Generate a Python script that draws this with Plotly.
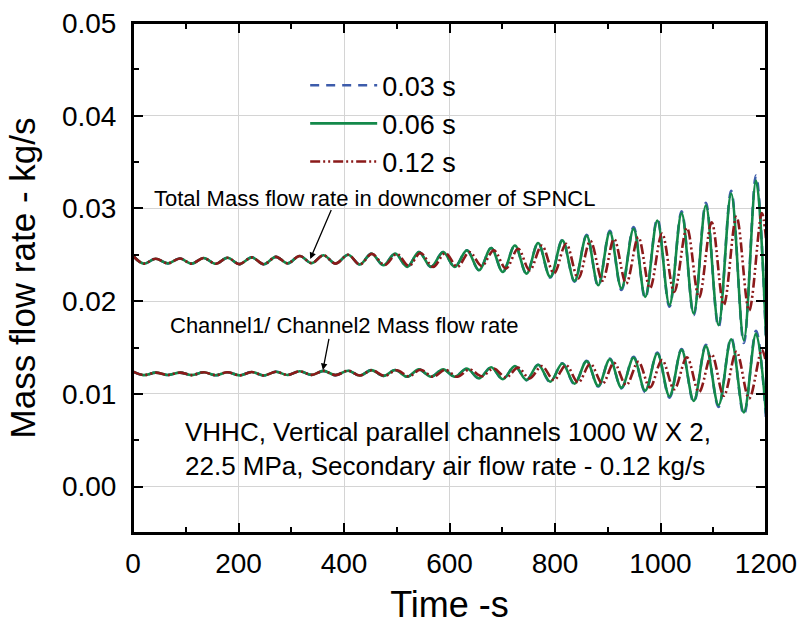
import plotly.graph_objects as go

# ---- data (extrema; curves drawn smoothly through them) ----
t_fast = [0, 20, 43, 66, 89, 111, 134, 157, 179, 202, 225, 248, 271, 293, 316, 339, 361, 384, 408, 430,
          452, 475, 497, 520, 542, 565, 588, 610, 633, 656, 679, 701, 724, 746, 768, 791, 814, 837, 860, 882,
          904, 926, 949, 971, 994, 1017, 1040, 1063, 1086, 1110, 1134, 1158, 1181, 1200]
t_slow = [0, 20, 43, 66, 89, 111, 134, 157, 179, 202, 225, 248, 271, 293, 316, 339, 361, 384, 408, 430,
          453, 477, 500, 523, 545, 569, 592, 615, 638, 661, 684, 707, 730, 752, 775, 798, 821, 844, 867, 890,
          912, 935, 958, 980, 1003, 1026, 1050, 1073, 1097, 1120, 1144, 1168, 1192, 1200]

total_006 = [0.0249, 0.02405, 0.02458, 0.02408, 0.0246, 0.02405, 0.02465, 0.02403, 0.02468, 0.024,
             0.02472, 0.02398, 0.02478, 0.02408, 0.02487, 0.0241, 0.02495, 0.02405, 0.025, 0.02395,
             0.02513, 0.02387, 0.02515, 0.0237, 0.0253, 0.0237, 0.0253, 0.02369, 0.02548, 0.02333,
             0.02573, 0.02315, 0.026, 0.02297, 0.02627, 0.02261, 0.02656, 0.02218, 0.02705, 0.02172,
             0.02745, 0.02136, 0.0278, 0.02046, 0.0287, 0.01957, 0.0295, 0.01868, 0.0303, 0.01742,
             0.0316, 0.0158, 0.0330, 0.0162]
total_003 = [0.0249, 0.02405, 0.02458, 0.02408, 0.0246, 0.02405, 0.02465, 0.02403, 0.02468, 0.024,
             0.02472, 0.02398, 0.02478, 0.02408, 0.02487, 0.0241, 0.02495, 0.02405, 0.025, 0.02395,
             0.02513, 0.02387, 0.02515, 0.0237, 0.0253, 0.0237, 0.0253, 0.02369, 0.02548, 0.02333,
             0.02573, 0.02315, 0.026, 0.02297, 0.02627, 0.02255, 0.02662, 0.0221, 0.02715, 0.0216,
             0.0276, 0.0212, 0.028, 0.0203, 0.0289, 0.0194, 0.0297, 0.0185, 0.0306, 0.0172,
             0.0319, 0.0155, 0.03355, 0.0158]
total_012 = [0.0249, 0.02405, 0.02458, 0.02408, 0.0246, 0.02405, 0.02465, 0.02403, 0.02468, 0.024,
             0.02472, 0.02398, 0.02478, 0.02408, 0.02487, 0.0241, 0.02495, 0.02405, 0.025, 0.02395,
             0.0251, 0.0239, 0.0251, 0.0238, 0.0252, 0.0237, 0.0252, 0.0237, 0.0253, 0.0238,
             0.02548, 0.02352, 0.02566, 0.02333, 0.026, 0.0230, 0.0262, 0.02244, 0.0265, 0.0222,
             0.0267, 0.0219, 0.0269, 0.0214, 0.0273, 0.0210, 0.0279, 0.0204, 0.0285, 0.0196,
             0.0291, 0.0190, 0.0295, 0.0268]

chan_006 = [0.0124, 0.01203, 0.01229, 0.01204, 0.0123, 0.01203, 0.01233, 0.01202, 0.01234, 0.012,
            0.01236, 0.01199, 0.01239, 0.01204, 0.01244, 0.01205, 0.01248, 0.01203, 0.0125, 0.01198,
            0.01257, 0.01194, 0.01258, 0.01185, 0.01265, 0.01185, 0.01265, 0.01185, 0.01274, 0.01167,
            0.01287, 0.01158, 0.013, 0.01149, 0.01314, 0.01131, 0.01328, 0.01109, 0.01353, 0.01086,
            0.01373, 0.01068, 0.0139, 0.01035, 0.01435, 0.00975, 0.01475, 0.00925, 0.01515, 0.00878,
            0.0159, 0.0080, 0.0165, 0.0079]
chan_003 = [0.0124, 0.01203, 0.01229, 0.01204, 0.0123, 0.01203, 0.01233, 0.01202, 0.01234, 0.012,
            0.01236, 0.01199, 0.01239, 0.01204, 0.01244, 0.01205, 0.01248, 0.01203, 0.0125, 0.01198,
            0.01257, 0.01194, 0.01258, 0.01185, 0.01265, 0.01185, 0.01265, 0.01185, 0.01274, 0.01167,
            0.01287, 0.01158, 0.013, 0.01149, 0.01314, 0.01128, 0.01331, 0.01105, 0.01357, 0.0108,
            0.0138, 0.0106, 0.014, 0.0102, 0.01445, 0.0096, 0.01485, 0.0091, 0.0153, 0.0086,
            0.01605, 0.00775, 0.0168, 0.0074]
chan_012 = [0.0124, 0.01203, 0.01229, 0.01204, 0.0123, 0.01203, 0.01233, 0.01202, 0.01234, 0.012,
            0.01236, 0.01199, 0.01239, 0.01204, 0.01244, 0.01205, 0.01248, 0.01203, 0.0125, 0.01198,
            0.01255, 0.01195, 0.01255, 0.0119, 0.0126, 0.01185, 0.0126, 0.01185, 0.01265, 0.0119,
            0.01274, 0.01176, 0.01283, 0.01167, 0.013, 0.0115, 0.0131, 0.01122, 0.01325, 0.0111,
            0.01335, 0.01095, 0.01345, 0.0107, 0.01365, 0.0105, 0.01395, 0.0102, 0.01425, 0.0098,
            0.01455, 0.0095, 0.01475, 0.0134]

y_tickvals = [0.0, 0.01, 0.02, 0.03, 0.04, 0.05]
y_ticktext = ["0.00", "0.01", "0.02", "0.03", "0.04", "0.05"]
x_tickvals = [0, 200, 400, 600, 800, 1000, 1200]

series = [
    ("0.03 s", t_fast, total_003, chan_003, "#3d5cab", "9px,7px"),
    ("0.06 s", t_fast, total_006, chan_006, "#13894a", "solid"),
    ("0.12 s", t_slow, total_012, chan_012, "#8b1a1a", "10px,3px,2px,3px,2px,3px"),
]

FONT = "Liberation Sans, Arial, sans-serif"
fig = go.Figure()
for name, t, tot, ch, col, dash in series:
    for i, y in enumerate([tot, ch]):
        fig.add_trace(go.Scatter(
            x=t, y=y, mode="lines", name=name, showlegend=(i == 0),
            line=dict(color=col, width=2.6, dash=dash, shape="spline", smoothing=1.0),
        ))

axis_common = dict(
    showline=True, linecolor="black", linewidth=2, mirror="ticks",
    ticks="inside", ticklen=10, tickwidth=2, tickcolor="black",
    showgrid=True, gridcolor="#d4d4d4", gridwidth=1, zeroline=False,
    tickfont=dict(family=FONT, size=28, color="black"), automargin=False,
)
fig.update_xaxes(range=[0, 1200], tickmode="array", tickvals=x_tickvals, ticklabelstandoff=4,
                 minor=dict(ticks="inside", ticklen=6, tickwidth=1.5, dtick=100, tick0=0, tickcolor="black", showgrid=False),
                 title=dict(text="Time -s", font=dict(family=FONT, size=36, color="black"), standoff=14),
                 **axis_common)
fig.update_yaxes(range=[-0.005, 0.05], tickmode="array", tickvals=y_tickvals, ticktext=y_ticktext,
                 ticklabelstandoff=9,
                 minor=dict(ticks="inside", ticklen=6, tickwidth=1.5, dtick=0.005, tick0=0, tickcolor="black", showgrid=False),
                 title=dict(text="Mass flow rate - kg/s", font=dict(family=FONT, size=35, color="black"), standoff=16),
                 **axis_common)

# frame around the plotting area
fig.add_shape(type="rect", xref="paper", yref="paper", x0=0, x1=1, y0=0, y1=1,
              line=dict(color="black", width=2), layer="above")

arrow = dict(showarrow=True, arrowhead=2, arrowsize=1, arrowwidth=1.3, arrowcolor="black",
             axref="x", ayref="y")
fig.add_annotation(x=336, y=0.02455, ax=377, ay=0.0300, text="", **arrow)
fig.add_annotation(x=360, y=0.01258, ax=372, ay=0.0161, text="", **arrow)
fig.add_annotation(x=457, y=0.0311, text="Total Mass flow rate in downcomer of SPNCL", showarrow=False,
                   font=dict(family=FONT, size=22, color="black"))
fig.add_annotation(x=400, y=0.01742, text="Channel1/ Channel2 Mass flow rate", showarrow=False,
                   font=dict(family=FONT, size=22, color="black"))
fig.add_annotation(x=94, y=0.0041, xanchor="left", yanchor="middle", align="left", showarrow=False,
                   text="VHHC, Vertical parallel channels 1000 W X 2,<br>22.5 MPa, Secondary air flow rate - 0.12 kg/s",
                   font=dict(family=FONT, size=26, color="black"))

fig.update_layout(
    width=802, height=628,
    margin=dict(l=133, r=36, t=23, b=95),
    paper_bgcolor="white", plot_bgcolor="white",
    font=dict(family=FONT, color="black"),
    legend=dict(x=0.272, y=0.925, xanchor="left", yanchor="top", bgcolor="rgba(0,0,0,0)",
                font=dict(family=FONT, size=27, color="black"), itemwidth=67, tracegroupgap=0),
)
# remove the default page margin so the figure sits at the top-left corner of the window
fig.write_html("out.html", config={"displayModeBar": False},
               post_script="document.body.style.margin='0';document.body.style.overflow='hidden';")
